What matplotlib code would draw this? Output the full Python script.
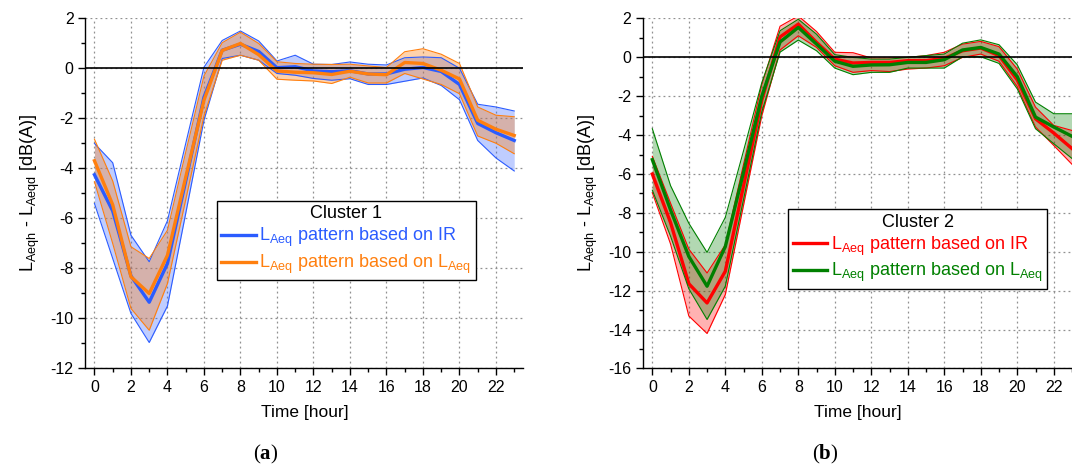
import numpy as np
import matplotlib
matplotlib.use("Agg")
import matplotlib.pyplot as plt
from matplotlib.lines import Line2D
from matplotlib.ticker import MultipleLocator

plt.rcParams['font.family'] = ['Liberation Sans', 'DejaVu Sans']
plt.rcParams['mathtext.fontset'] = 'custom'
plt.rcParams['mathtext.bf'] = 'Liberation Serif:bold'
plt.rcParams['mathtext.default'] = 'regular'
plt.rcParams['axes.unicode_minus'] = False

hours = np.arange(24)

# Cluster 1
ir1_mean = [-4.25, -5.7, -8.3, -9.35, -7.8, -4.5, -1.15, 0.73, 0.97, 0.68, 0.03, 0.07,
            -0.1, -0.13, -0.09, -0.22, -0.22, -0.03, 0.04, -0.12, -0.64, -2.2, -2.57, -2.88]
ir1_upper = [-3.0, -3.77, -6.67, -7.73, -6.09, -3.0, 0.05, 1.12, 1.5, 1.1, 0.3, 0.53,
             0.17, 0.16, 0.26, 0.17, 0.14, 0.43, 0.46, 0.43, 0.01, -1.43, -1.54, -1.7]
ir1_lower = [-5.4, -7.6, -9.8, -10.96, -9.5, -5.8, -2.07, 0.4, 0.53, 0.33, -0.2, -0.27,
             -0.4, -0.47, -0.41, -0.64, -0.64, -0.51, -0.38, -0.68, -1.25, -2.88, -3.58, -4.1]
laeq1_mean = [-3.69, -5.45, -8.33, -9.0, -7.47, -4.35, -1.27, 0.72, 1.0, 0.55, -0.1, -0.15,
              -0.17, -0.24, -0.11, -0.22, -0.25, 0.24, 0.2, -0.07, -0.42, -2.07, -2.43, -2.68]
laeq1_upper = [-2.83, -4.5, -7.13, -7.6, -6.47, -3.35, -0.3, 1.03, 1.45, 1.0, 0.27, 0.2,
               0.17, 0.16, 0.17, 0.1, 0.04, 0.67, 0.79, 0.57, 0.2, -1.54, -1.87, -1.93]
laeq1_lower = [-4.53, -7.0, -9.6, -10.47, -8.6, -5.25, -1.9, 0.33, 0.53, 0.33, -0.43, -0.47,
               -0.5, -0.6, -0.35, -0.58, -0.58, -0.2, -0.42, -0.64, -1.01, -2.7, -2.99, -3.41]

# Cluster 2
ir2_mean = [-6.0, -8.5, -11.64, -12.63, -11.0, -6.6, -2.2, 1.05, 1.71, 0.77, -0.09, -0.29,
            -0.26, -0.26, -0.17, -0.17, -0.05, 0.34, 0.48, 0.09, -1.16, -3.16, -3.89, -4.69]
ir2_upper = [-5.09, -7.5, -9.86, -11.09, -9.64, -5.5, -1.4, 1.6, 2.13, 1.33, 0.26, 0.24,
             -0.03, -0.03, 0.0, 0.09, 0.26, 0.68, 0.82, 0.55, -0.6, -2.56, -3.5, -3.76]
ir2_lower = [-6.96, -9.6, -13.3, -14.2, -12.2, -7.6, -3.0, 0.38, 1.11, 0.51, -0.43, -0.77,
             -0.68, -0.73, -0.6, -0.55, -0.43, 0.0, 0.17, -0.2, -1.5, -3.58, -4.53, -5.5]
laeq2_mean = [-5.26, -7.85, -10.24, -11.77, -9.73, -5.9, -2.0, 0.79, 1.54, 0.68, -0.2, -0.46,
              -0.39, -0.38, -0.26, -0.26, -0.12, 0.38, 0.51, 0.17, -0.99, -3.07, -3.58, -4.06]
laeq2_upper = [-3.67, -6.6, -8.53, -10.03, -8.23, -4.8, -1.3, 1.37, 1.96, 1.19, 0.14, 0.0,
               -0.09, -0.09, 0.0, 0.09, 0.17, 0.73, 0.9, 0.65, -0.38, -2.3, -2.9, -2.9]
laeq2_lower = [-6.83, -9.2, -11.9, -13.48, -11.77, -7.3, -2.8, 0.27, 0.89, 0.34, -0.55, -0.89,
               -0.77, -0.77, -0.55, -0.55, -0.55, 0.03, 0.03, -0.31, -1.62, -3.67, -4.44, -5.2]

lbl_ir = r'L$_{Aeq}$ pattern based on IR'
lbl_laeq = r'L$_{Aeq}$ pattern based on L$_{Aeq}$'
ylab = r'L$_{Aeqh}$ - L$_{Aeqd}$ [dB(A)]'


def band(ax, mean, lower, upper, color, fill_alpha):
    ax.fill_between(hours, lower, upper, color=color, alpha=fill_alpha, lw=0, zorder=2)
    ax.plot(hours, lower, color=color, lw=0.8, zorder=3)
    ax.plot(hours, upper, color=color, lw=0.8, zorder=3)
    ax.plot(hours, mean, color=color, lw=2.4, zorder=3)


def style_axes(ax, xmax, ylim):
    ax.set_xlim(-0.5, xmax)
    ax.set_ylim(*ylim)
    ax.xaxis.set_major_locator(MultipleLocator(2))
    ax.xaxis.set_minor_locator(MultipleLocator(1))
    ax.yaxis.set_major_locator(MultipleLocator(2))
    ax.yaxis.set_minor_locator(MultipleLocator(1))
    ax.grid(True, which='major', color='#909090', linestyle=(0, (1.5, 2.5)), lw=0.9, zorder=0)
    ax.axhline(0, color='black', lw=1.2, zorder=4)
    for s in ['top', 'right']:
        ax.spines[s].set_visible(False)
    for s in ['left', 'bottom']:
        ax.spines[s].set_linewidth(1.0)
    ax.tick_params(which='major', direction='out', length=5, width=1, labelsize=11.5)
    ax.tick_params(which='minor', direction='out', length=3, width=1)
    ax.set_xlabel('Time [hour]', fontsize=12.5, labelpad=7)
    ax.set_ylabel(ylab, fontsize=13, labelpad=6)


def legend(ax, title, c1, c2, anchor):
    handles = [Line2D([], [], color=c1, lw=2.4), Line2D([], [], color=c2, lw=2.4)]
    leg = ax.legend(handles, [lbl_ir, lbl_laeq], title=title, loc='upper left',
                    bbox_to_anchor=anchor, fontsize=13, title_fontsize=13,
                    labelcolor=[c1, c2], frameon=True, fancybox=False, framealpha=1,
                    edgecolor='black', handlelength=1.9, handletextpad=0.2,
                    borderpad=0.25, labelspacing=0.2, borderaxespad=0)
    leg.get_frame().set_linewidth(1.0)
    leg.set_zorder(6)


fig = plt.figure(figsize=(10.72, 4.69), dpi=100)
ax1 = fig.add_axes([0.0796, 0.2143, 0.4086, 0.7463])
ax2 = fig.add_axes([0.6, 0.2143, 0.4, 0.7463])

blue = '#2b5cff'
orange = '#ff7f0e'
red = '#ff0000'
green = '#008000'

band(ax1, ir1_mean, ir1_lower, ir1_upper, blue, 0.3)
band(ax1, laeq1_mean, laeq1_lower, laeq1_upper, orange, 0.35)
style_axes(ax1, 23.5, (-12, 2))
legend(ax1, 'Cluster 1', blue, orange, (0.30, 0.479))

band(ax2, ir2_mean, ir2_lower, ir2_upper, red, 0.3)
band(ax2, laeq2_mean, laeq2_lower, laeq2_upper, green, 0.3)
style_axes(ax2, 23.0, (-16, 2))
legend(ax2, 'Cluster 2', red, green, (0.338, 0.455))

fig.text(0.248, 0.02, r'($\mathbf{a}$)', family='Liberation Serif', fontsize=15, ha='center')
fig.text(0.77, 0.02, r'($\mathbf{b}$)', family='Liberation Serif', fontsize=15, ha='center')

fig.savefig('out.png', dpi=100)
